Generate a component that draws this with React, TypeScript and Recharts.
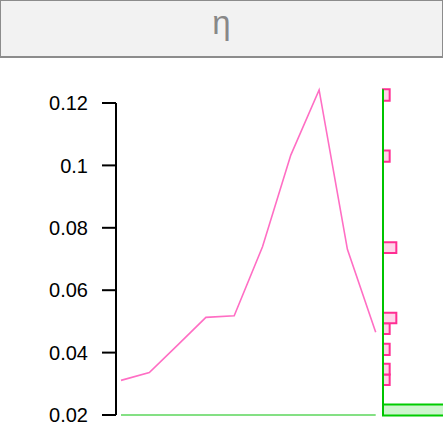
import React from "react";
import { LineChart, Line, XAxis, YAxis, ComposedChart, ReferenceArea, ReferenceLine } from "recharts";

// ---- data ----
const steps = [1, 2, 3, 4, 5, 6, 7, 8, 9, 10];
const etaValues = [0.0311, 0.0336, 0.0424, 0.0513, 0.0518, 0.0739, 0.1033, 0.1242, 0.0731, 0.0465];
const baselineValues = [0.02, 0.02, 0.02, 0.02, 0.02, 0.02, 0.02, 0.02, 0.02, 0.02];
const yTicks = [0.02, 0.04, 0.06, 0.08, 0.1, 0.12];
const pinkBinLo = [0.0296, 0.033, 0.0392, 0.046, 0.0494, 0.0719, 0.1012, 0.1207];
const pinkBinHi = [0.033, 0.0364, 0.0428, 0.0494, 0.0528, 0.0754, 0.1048, 0.1244];
const greenBinLo = [0.0198];
const greenBinHi = [0.0234];
const greenBinCount = [10];
const title = "η";

const lineData = steps.map((s, i) => ({ step: s, eta: etaValues[i], base: baselineValues[i] }));
const pinkCounts = pinkBinLo.map((lo, i) => etaValues.filter((v) => v >= lo && v < pinkBinHi[i]).length);
const histData = [{ c: 0, v: 0.02 }];

const W = 443;
const H = 443;
const AXIS_DOMAIN: [number, number] = [0.02, 0.12];
const DATA_DOMAIN: [number, number] = [0.02, 0.13];
const PLOT_TOP_AXIS = 103;
const PLOT_BOTTOM = 415;
const PLOT_TOP_DATA = PLOT_BOTTOM - ((DATA_DOMAIN[1] - DATA_DOMAIN[0]) / (AXIS_DOMAIN[1] - AXIS_DOMAIN[0])) * (PLOT_BOTTOM - PLOT_TOP_AXIS);
const AXIS_X = 116;
const RIGHT_MARGIN = W - 375.7;
const HIST_LEFT = 373;
const HIST_PAD = 10;

export default function App() {
  return (
    <div
      style={{
        position: "absolute",
        left: 0,
        top: 0,
        width: W,
        height: H,
        background: "#fff",
        overflow: "hidden",
        fontFamily: "'Liberation Sans', Arial, sans-serif",
      }}
    >
      <div
        style={{
          position: "absolute",
          left: 0,
          top: 0,
          width: W,
          height: 58,
          boxSizing: "border-box",
          background: "#f2f2f2",
          borderStyle: "solid",
          borderColor: "#8c8c8c",
          borderWidth: "1px 1px 2px 1px",
        }}
      >
        <div
          style={{
            position: "absolute",
            left: 0,
            width: "100%",
            top: 5,
            textAlign: "center",
            fontSize: 33,
            lineHeight: "33px",
            color: "#888",
          }}
        >
          {title}
        </div>
      </div>

      {/* axis + baseline */}
      <div style={{ position: "absolute", left: 0, top: 0 }}>
        <LineChart
          width={W}
          height={H}
          data={lineData}
          margin={{ top: PLOT_TOP_AXIS, bottom: H - PLOT_BOTTOM, left: 0, right: RIGHT_MARGIN }}
        >
          <XAxis dataKey="step" type="number" domain={[1, 10]} hide padding={{ left: 5, right: 0 }} />
          <YAxis
            type="number"
            domain={AXIS_DOMAIN}
            ticks={yTicks}
            width={AXIS_X}
            tickSize={14}
            tickMargin={14}
            axisLine={{ stroke: "#000", strokeWidth: 2 }}
            tickLine={{ stroke: "#000", strokeWidth: 2 }}
            tick={{ fill: "#000", fontSize: 20, fontFamily: "'Liberation Sans', Arial, sans-serif" }}
            interval={0}
          />
          <Line dataKey="base" stroke="#84e084" strokeWidth={2} dot={false} isAnimationActive={false} />
        </LineChart>
      </div>

      {/* eta line */}
      <div style={{ position: "absolute", left: 0, top: 0 }}>
        <LineChart
          width={W}
          height={H}
          data={lineData}
          margin={{ top: PLOT_TOP_DATA, bottom: H - PLOT_BOTTOM, left: AXIS_X, right: RIGHT_MARGIN }}
        >
          <XAxis dataKey="step" type="number" domain={[1, 10]} hide padding={{ left: 5, right: 0 }} />
          <YAxis type="number" domain={DATA_DOMAIN} hide />
          <Line dataKey="eta" stroke="#ff6ec4" strokeWidth={1.6} dot={false} isAnimationActive={false} />
        </LineChart>
      </div>

      {/* marginal histogram */}
      <div style={{ position: "absolute", left: HIST_LEFT, top: 0 }}>
        <ComposedChart
          width={W - HIST_LEFT}
          height={H}
          data={histData}
          margin={{ top: PLOT_TOP_DATA, bottom: H - PLOT_BOTTOM, left: HIST_PAD, right: 0 }}
        >
          <XAxis dataKey="c" type="number" domain={[0, 9]} hide allowDataOverflow />
          <YAxis dataKey="v" type="number" domain={DATA_DOMAIN} hide allowDataOverflow />
          {pinkBinLo.map((lo, i) =>
            pinkCounts[i] > 0 ? (
              <ReferenceArea
                key={"p" + i}
                x1={0}
                x2={pinkCounts[i]}
                y1={lo}
                y2={pinkBinHi[i]}
                fill="#ffd3e9"
                fillOpacity={1}
                stroke="#ff2e93"
                strokeWidth={2}
                ifOverflow="visible"
              />
            ) : null
          )}
          {greenBinLo.map((lo, i) => (
            <ReferenceArea
              key={"g" + i}
              x1={0}
              x2={greenBinCount[i]}
              y1={lo}
              y2={greenBinHi[i]}
              fill="#cdf5cd"
              fillOpacity={1}
              stroke="#00cc00"
              strokeWidth={2}
              ifOverflow="visible"
            />
          ))}
          <ReferenceLine
            segment={[
              { x: 0, y: greenBinLo[0] },
              { x: 0, y: pinkBinHi[pinkBinHi.length - 1] },
            ]}
            stroke="#00c400"
            strokeWidth={2}
            ifOverflow="visible"
          />
        </ComposedChart>
      </div>
    </div>
  );
}
